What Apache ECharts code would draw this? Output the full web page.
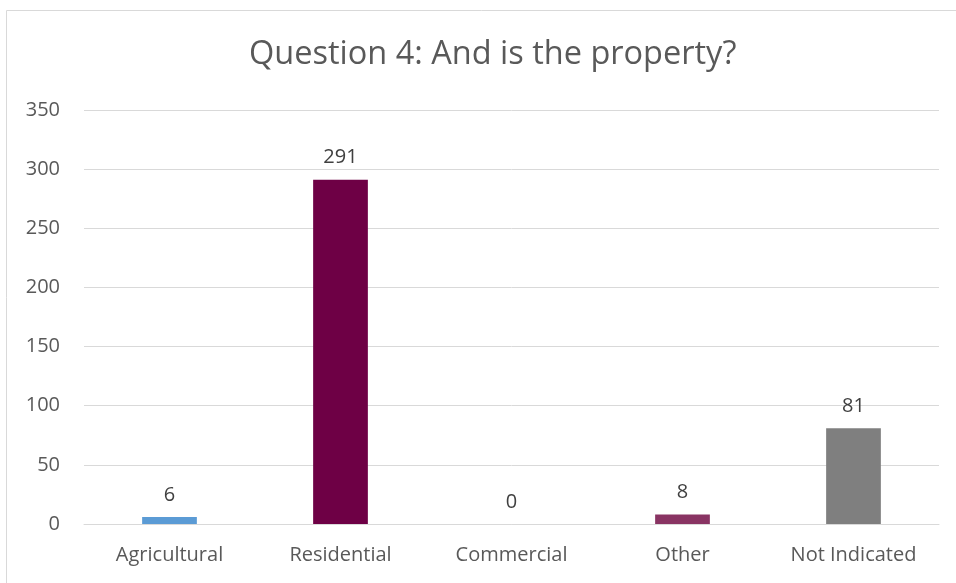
<!DOCTYPE html>
<html><head><meta charset="utf-8">
<script src="https://cdn.jsdelivr.net/npm/echarts@6/dist/echarts.min.js"></script>
<style>html,body{margin:0;padding:0;background:#fff}#c{width:956px;height:583px}</style>
</head><body><div id="c"></div>
<script>
const categories = ["Agricultural", "Residential", "Commercial", "Other", "Not Indicated"];
const values = [6, 291, 0, 8, 81];
const barColors = ["#5B9BD5", "#6E0045", "#A5A5A5", "#893463", "#7F7F7F"];
const yTicks = [0, 50, 100, 150, 200, 250, 300, 350];

const chart = echarts.init(document.getElementById('c'));
const font = "'Open Sans', 'Liberation Sans', sans-serif";
chart.setOption({
  animation: false,
  graphic: [{
    type: 'rect', shape: {x: 6.5, y: 10.5, width: 1000, height: 1000},
    style: {fill: 'none', stroke: '#D9D9D9', lineWidth: 1}, silent: true
  }],
  title: {
    text: "Question 4: And is the property?",
    left: 244, top: 33,
    textStyle: {fontFamily: font, fontSize: 32.5, fontWeight: 'normal', color: '#595959'}
  },
  grid: {left: 84, right: 17, top: 110, bottom: 59, containLabel: false},
  xAxis: {
    type: 'category', data: categories,
    axisLine: {lineStyle: {color: '#D9D9D9', width: 1}},
    axisTick: {show: false},
    axisLabel: {fontFamily: font, fontSize: 20, color: '#595959', margin: 21}
  },
  yAxis: {
    type: 'value', min: yTicks[0], max: yTicks[yTicks.length - 1], interval: 50,
    axisLine: {show: false}, axisTick: {show: false},
    splitLine: {lineStyle: {color: '#D9D9D9', width: 1}},
    axisLabel: {fontFamily: font, fontSize: 20, color: '#595959', margin: 24}
  },
  series: [{
    type: 'bar',
    data: values.map((v, i) => ({value: v, itemStyle: {color: barColors[i]}})),
    barWidth: '32%',
    label: {show: true, position: 'top', distance: 12, fontFamily: font, fontSize: 20, color: '#404040'}
  }]
});
</script></body></html>
